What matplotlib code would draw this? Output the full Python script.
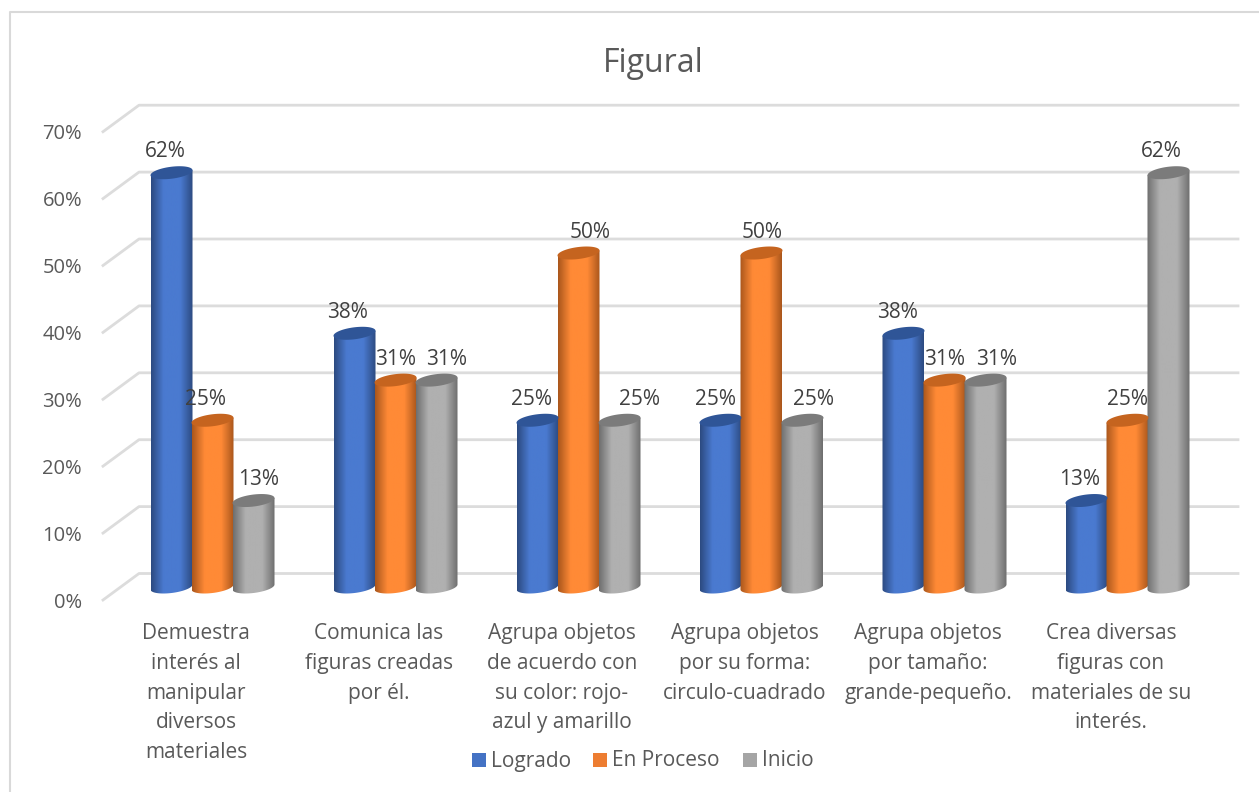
import numpy as np
from matplotlib import pyplot as plt
from matplotlib.colors import LinearSegmentedColormap
from matplotlib.patches import Polygon, Rectangle

W, H = 1259, 792

categories = ["Demuestra\ninterés al\nmanipular\ndiversos\nmateriales",
              "Comunica las\nfiguras creadas\npor él.",
              "Agrupa objetos\nde acuerdo con\nsu color: rojo-\nazul y amarillo",
              "Agrupa objetos\npor su forma:\ncirculo-cuadrado",
              "Agrupa objetos\npor tamaño:\ngrande-pequeño.",
              "Crea diversas\nfiguras con\nmateriales de su\ninterés."]
logrado = [62, 38, 25, 25, 38, 13]
en_proceso = [25, 31, 50, 50, 31, 25]
inicio = [13, 31, 25, 25, 31, 62]
series_names = ["Logrado", "En Proceso", "Inicio"]
y_ticks = [0, 10, 20, 30, 40, 50, 60, 70]

# edge, light, top of each cylinder
palette = [("#2c4a80", "#4a7ad0", "#2f5597"),
           ("#a9561c", "#ff8a36", "#c5641f"),
           ("#6e6e6e", "#b0b0b0", "#7b7b7b")]
legend_colors = ["#4472c4", "#ed7d31", "#a5a5a5"]

plt.rcParams['font.family'] = ['Open Sans', 'DejaVu Sans']

# pixel scale of the chart
PX = 183.0
PY = 6.69
X0, Y0 = 212.5, 587.5


def xd(px):
    return (px - X0) / PX


def yd(py):
    return (Y0 - py) / PY


def cylinder(ax, cx, val, width, colors):
    a = width / 2
    b = 6.0 / PY
    shear = 2.5 / PY
    base = 0.5 / PY
    t = np.linspace(0, np.pi, 60)
    top_x = cx + a * np.cos(t)
    top_y = val + shear * np.cos(t)
    low_x = cx - a * np.cos(t)
    low_y = base - b * np.sin(t) - shear * np.cos(t)
    body = np.column_stack([np.r_[top_x, low_x], np.r_[top_y, low_y]])

    cmap = LinearSegmentedColormap.from_list(
        "c", [(0, colors[0]), (0.3, colors[1]), (0.7, colors[1]), (1, colors[0])])
    grad = np.linspace(0, 1, 128).reshape(1, -1)
    im = ax.imshow(grad, cmap=cmap, aspect='auto', zorder=3,
                   extent=[cx - a, cx + a, base - b - shear, val + shear], origin='lower')
    clip = Polygon(body, closed=True, transform=ax.transData, fill=False, ec='none')
    ax.add_patch(clip)
    im.set_clip_path(clip)

    t2 = np.linspace(0, 2 * np.pi, 120)
    ax.fill(cx + a * np.cos(t2), val + b * np.sin(t2) + shear * np.cos(t2),
            color=colors[2], lw=0, zorder=4)


fig = plt.figure(figsize=(W / 100, H / 100), dpi=100)
ax = fig.add_axes([0, 0, 1, 1])
ax.set_axis_off()

# outer frame of the chart, only top and left are in the picture
ax.plot([xd(9.5), xd(9.5), xd(W)], [yd(H), yd(12), yd(12)], color="#d9d9d9", lw=1.5, zorder=1)

# gridlines: slanted floor part then the back wall
for v in y_ticks:
    yb = v + yd(573.5)
    yf = v + yd(600)
    ax.plot([xd(103), xd(139), xd(1238)], [yf, yb, yb], color="#dcdcdc", lw=2, zorder=1)
    ax.text(xd(82), yf - 0.4, "%d%%" % v, ha='right', va='center', fontsize=14.5, color="#595959")

series = [logrado, en_proceso, inicio]
labels_x = [[165, 205, 259], [348, 396, 447], [531, 590, 640], [715, 762, 814], [898, 945, 997], [1080, 1128, 1161]]
bar_w = 41 / PX
for i, cat in enumerate(categories):
    for j, s in enumerate(series):
        cx = i + (j - 1) * bar_w
        cylinder(ax, cx, s[i], 42 / PX, palette[j])
        ax.text(xd(labels_x[i][j]), s[i] + 3.1, "%d%%" % s[i], ha='center', va='center',
                fontsize=15, color="#404040", zorder=5)
    ax.text(i - 0.09, yd(623), cat, ha='center', va='top', fontsize=15,
            color="#595959", linespacing=1.55)

ax.text(xd(653), yd(64), "Figural", ha='center', va='center', fontsize=23, color="#595959")

# legend
for x, col, name in zip([472, 593, 743], legend_colors, series_names):
    ax.add_patch(Rectangle((xd(x), yd(767)), 14 / PX, 14 / PY, color=col, lw=0))
    ax.text(xd(x + 19), yd(761), name, ha='left', va='center', fontsize=15, color="#595959")

ax.set_xlim(xd(0), xd(W))
ax.set_ylim(yd(H), yd(0))
fig.savefig("out.png", dpi=100)
